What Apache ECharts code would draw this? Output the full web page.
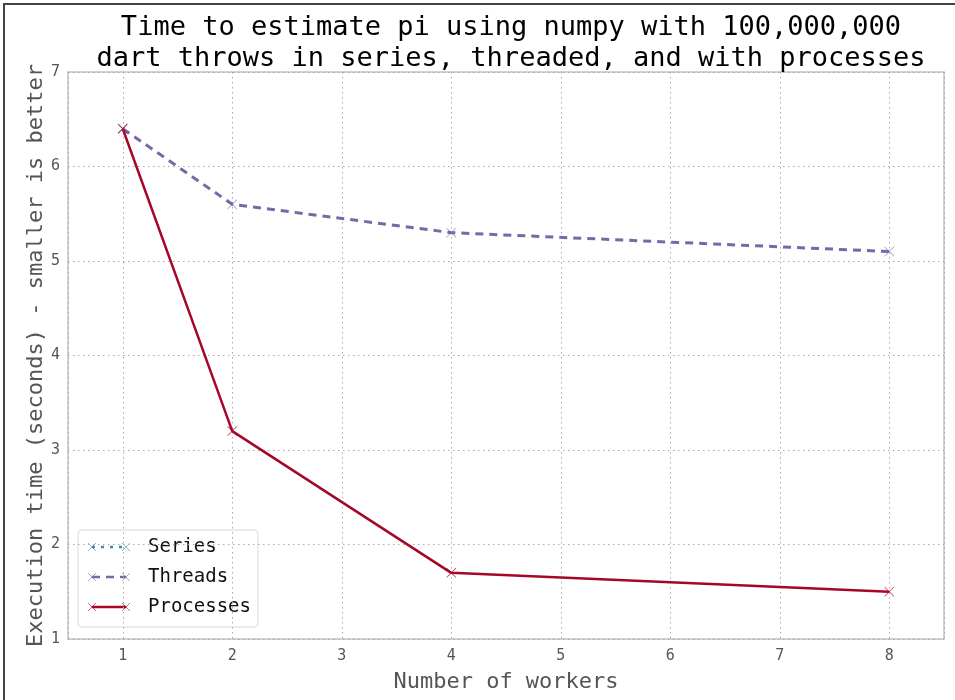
<!DOCTYPE html>
<html>
<head>
<meta charset="utf-8">
<script src="https://cdn.jsdelivr.net/npm/echarts@6/dist/echarts.min.js"></script>
<style>
html,body{margin:0;padding:0;background:#fff;}
#chart{width:955px;height:700px;}
</style>
</head>
<body>
<div id="chart"></div>
<script>
const workers = [1, 2, 4, 8];
const seriesTimes = [6.4];
const threadTimes = [6.4, 5.6, 5.3, 5.1];
const processTimes = [6.4, 3.2, 1.7, 1.5];
const seriesNames = ['Series', 'Threads', 'Processes'];
const colors = ['#348ABD', '#7A68A6', '#A60628'];
const titleLines = ['Time to estimate pi using numpy with 100,000,000', 'dart throws in series, threaded, and with processes'];

const font = '"DejaVu Sans Mono", "Liberation Mono", monospace';
const xMark = 'path://M0,0.6L0.6,0L5,4.4L9.4,0L10,0.6L5.6,5L10,9.4L9.4,10L5,5.6L0.6,10L0,9.4L4.4,5Z';

function pairs(xs, ys) { return ys.map((y, i) => [xs[i], y]); }

const chart = echarts.init(document.getElementById('chart'), null, {renderer: 'canvas'});

const legendX = 78, legendY = 530;
const legendEls = [];
seriesNames.forEach((name, i) => {
  const y = legendY + 17 + i * 30;
  const dash = i === 0 ? [3, 6] : (i === 1 ? [8, 6] : null);
  legendEls.push({type: 'line', shape: {x1: 92, y1: y, x2: 126, y2: y},
     style: {stroke: colors[i], lineWidth: 2.4, lineDash: dash}});
  [92, 126].forEach(x => {
    legendEls.push({type: 'line', shape: {x1: x - 4, y1: y - 4, x2: x + 4, y2: y + 4}, style: {stroke: colors[i], lineWidth: 1, opacity: 0.6}});
    legendEls.push({type: 'line', shape: {x1: x + 4, y1: y - 4, x2: x - 4, y2: y + 4}, style: {stroke: colors[i], lineWidth: 1, opacity: 0.6}});
  });
  legendEls.push({type: 'text', x: 148, y: y,
    style: {text: name, fontFamily: font, fontSize: 19, fill: '#111', verticalAlign: 'middle', align: 'left'}});
});

const option = {
  backgroundColor: '#fff',
  animation: false,
  title: {
    text: titleLines.join('\n'),
    left: 506, top: 7, textAlign: 'center',
    textStyle: {fontFamily: font, fontSize: 27, fontWeight: 'normal', color: '#000', lineHeight: 31}
  },
  grid: {left: 68, right: 11, top: 72, bottom: 61, show: true, borderColor: '#c4c4c4', borderWidth: 1.5, backgroundColor: '#fff'},
  xAxis: {
    type: 'value', min: 0.5, max: 8.5, splitNumber: 8,
    name: 'Number of workers', nameLocation: 'middle', nameGap: 32, nameMoveOverlap: false,
    nameTextStyle: {fontFamily: font, fontSize: 22, color: '#555'},
    axisLine: {show: false}, axisTick: {show: false},
    axisLabel: {showMinLabel: false, showMaxLabel: false, fontFamily: font, fontSize: 15, color: '#555', margin: 10},
    splitLine: {show: true, lineStyle: {color: '#aaa', width: 1, type: [1.5, 3.5]}}
  },
  yAxis: {
    type: 'value', min: 1, max: 7, interval: 1,
    name: 'Execution time (seconds) - smaller is better', nameLocation: 'middle', nameGap: 21, nameMoveOverlap: false,
    nameTextStyle: {fontFamily: font, fontSize: 22, color: '#555'},
    axisLine: {show: false}, axisTick: {show: false},
    axisLabel: {fontFamily: font, fontSize: 15, color: '#555', margin: 8},
    splitLine: {show: true, lineStyle: {color: '#aaa', width: 1, type: [1.5, 3.5]}}
  },
  series: [
    {name: seriesNames[0], type: 'line', data: pairs(workers, seriesTimes), symbol: xMark, symbolSize: 9,
     itemStyle: {color: colors[0], opacity: 0.6}, lineStyle: {color: colors[0], width: 2, type: [3, 6]}},
    {name: seriesNames[1], type: 'line', data: pairs(workers, threadTimes), symbol: xMark, symbolSize: 10,
     itemStyle: {color: colors[1], opacity: 0.6}, lineStyle: {color: colors[1], width: 3, type: [8, 6]}},
    {name: seriesNames[2], type: 'line', data: pairs(workers, processTimes), symbol: xMark, symbolSize: 10,
     itemStyle: {color: colors[2], opacity: 0.7}, lineStyle: {color: colors[2], width: 2.5}}
  ],
  graphic: [
    {type: 'line', shape: {x1: 3, y1: 4, x2: 955, y2: 4}, style: {stroke: '#444', lineWidth: 2}},
    {type: 'line', shape: {x1: 4, y1: 3, x2: 4, y2: 700}, style: {stroke: '#444', lineWidth: 2}},
    {type: 'rect', shape: {x: legendX, y: legendY, width: 180, height: 97, r: 4},
     style: {fill: 'rgba(255,255,255,0.9)', stroke: '#d8d8d8', lineWidth: 1}},
    ...legendEls
  ]
};
chart.setOption(option);
</script>
</body>
</html>
